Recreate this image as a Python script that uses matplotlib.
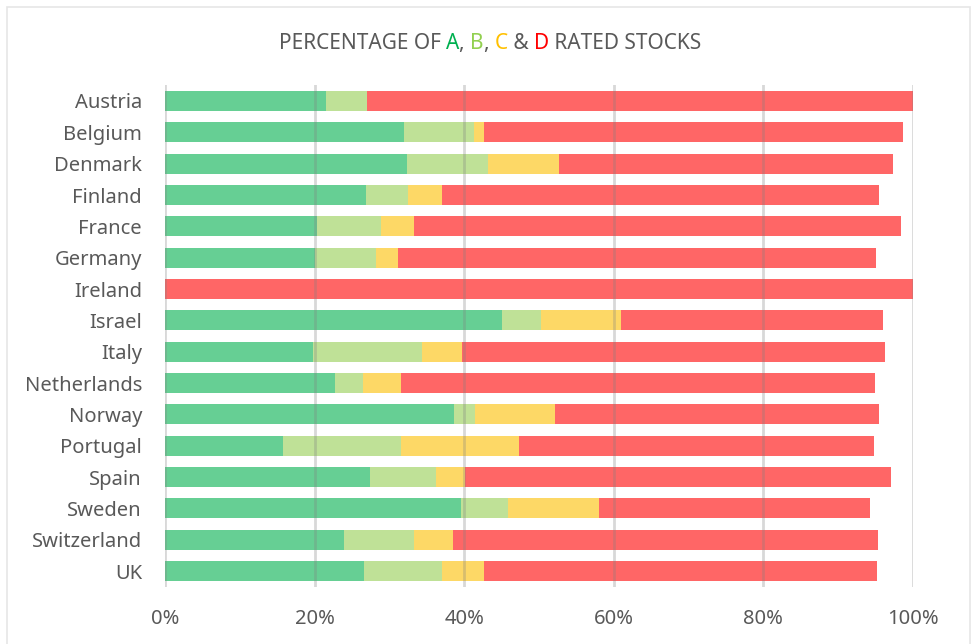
import matplotlib.pyplot as plt
import matplotlib.patches as patches
from matplotlib.offsetbox import TextArea, HPacker, AnchoredOffsetbox
import numpy as np

plt.rcParams['font.family'] = ['Noto Sans', 'DejaVu Sans']

# data (percent of stocks by rating)
countries = ['Austria', 'Belgium', 'Denmark', 'Finland', 'France', 'Germany', 'Ireland',
             'Israel', 'Italy', 'Netherlands', 'Norway', 'Portugal', 'Spain', 'Sweden',
             'Switzerland', 'UK']
rated_a = [21.5, 32.0, 32.4, 26.9, 20.3, 20.1, 0.0, 45.0, 19.8, 22.7, 38.7, 15.8, 27.4, 39.6, 23.9, 26.6]
rated_b = [5.5, 9.3, 10.8, 5.6, 8.6, 8.1, 0.0, 5.3, 14.6, 3.8, 2.7, 15.8, 8.8, 6.3, 9.4, 10.5]
rated_c = [0.0, 1.4, 9.5, 4.5, 4.4, 2.9, 0.0, 10.7, 5.3, 5.1, 10.8, 15.7, 3.9, 12.1, 5.2, 5.6]
rated_d = [73.0, 56.0, 44.6, 58.5, 65.1, 64.0, 100.0, 35.0, 56.6, 63.3, 43.3, 47.5, 57.0, 36.2, 56.8, 52.5]

colors = ['#66CF94', '#BFE197', '#FDD866', '#FF6666']

fig = plt.figure(figsize=(9.76, 6.44), dpi=100)
ax = fig.add_axes([0.169, 0.089, 0.7664, 0.7785])

y = np.arange(len(countries))
left = np.zeros(len(countries))
for vals, c in zip([rated_a, rated_b, rated_c, rated_d], colors):
    ax.barh(y, vals, left=left, height=0.64, color=c, zorder=2)
    left += np.array(vals)

ax.set_xlim(0, 100)
ax.set_ylim(len(countries) - 0.5, -0.5)
ax.set_yticks(y)
ax.set_yticklabels(countries)
ax.set_xticks([0, 20, 40, 60, 80, 100])
ax.set_xticklabels(['0%', '20%', '40%', '60%', '80%', '100%'])
ax.tick_params(length=0, labelsize=14.5, colors='#595959')
ax.tick_params(axis='x', pad=16)
ax.tick_params(axis='y', pad=16.5)
for s in ax.spines.values():
    s.set_visible(False)
for xv in [0, 20, 40, 60, 80, 100]:
    ax.axvline(xv, color='#808080', alpha=0.3, lw=2, zorder=3)

# title with coloured letters
parts = [('PERCENTAGE OF ', '#595959'), ('A', '#00B050'), (', ', '#595959'),
         ('B', '#92D050'), (', ', '#595959'), ('C', '#FFC000'), (' & ', '#595959'),
         ('D', '#FF0000'), (' RATED STOCKS', '#595959')]
boxes = [TextArea(t, textprops=dict(color=c, fontsize=15)) for t, c in parts]
pack = HPacker(children=boxes, sep=0, pad=0, align='baseline')
anch = AnchoredOffsetbox(loc='center', child=pack, pad=0, frameon=False,
                         bbox_to_anchor=(0.502, 0.933), bbox_transform=fig.transFigure)
fig.add_artist(anch)

# light frame around the chart
fig.add_artist(patches.Rectangle((7 / 976, -0.01), 963 / 976, 1 - 7 / 644 + 0.01,
                                 transform=fig.transFigure, fill=False,
                                 edgecolor='#E6E6E6', lw=1.2))

fig.savefig('out.png', dpi=100)
